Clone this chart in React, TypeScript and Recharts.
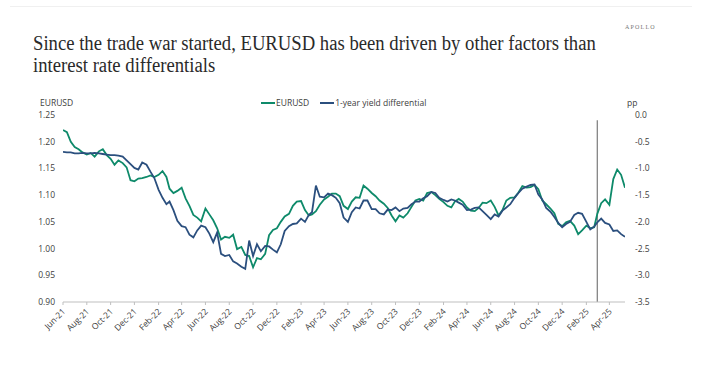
import React from 'react'
import { LineChart, Line, XAxis, YAxis, ReferenceLine } from 'recharts'

// readings taken every ~10 days (1st, 11th, 21st of each month) from Jun-21 to mid May-25
const sampleDays = [1, 11, 21]

const eurusd = [
  1.222, 1.218, 1.200, 1.190, 1.186, 1.180, 1.176, 1.179, 1.172, 1.182,
  1.186, 1.175, 1.168, 1.157, 1.165, 1.160, 1.152, 1.128, 1.126, 1.131,
  1.132, 1.134, 1.137, 1.134, 1.138, 1.145, 1.134, 1.112, 1.104, 1.108,
  1.114, 1.094, 1.080, 1.063, 1.058, 1.051, 1.075, 1.064, 1.053, 1.038,
  1.017, 1.022, 1.020, 1.026, 0.999, 1.003, 0.988, 0.986, 0.965, 0.982,
  0.980, 0.990, 1.025, 1.035, 1.038, 1.050, 1.060, 1.065, 1.080, 1.088,
  1.089, 1.072, 1.062, 1.064, 1.070, 1.082, 1.092, 1.097, 1.103, 1.103,
  1.098, 1.080, 1.074, 1.088, 1.096, 1.095, 1.118, 1.112, 1.104, 1.098,
  1.090, 1.084, 1.076, 1.062, 1.051, 1.062, 1.058, 1.066, 1.078, 1.090,
  1.093, 1.090, 1.104, 1.106, 1.100, 1.093, 1.087, 1.080, 1.077, 1.088,
  1.093, 1.088, 1.077, 1.071, 1.070, 1.076, 1.086, 1.085, 1.090, 1.078,
  1.062, 1.072, 1.090, 1.095, 1.096, 1.105, 1.117, 1.114, 1.115, 1.119,
  1.111, 1.090, 1.083, 1.075, 1.066, 1.046, 1.042, 1.049, 1.052, 1.043,
  1.027, 1.034, 1.043, 1.038, 1.040, 1.065, 1.085, 1.092, 1.082, 1.130,
  1.148, 1.138, 1.114,
]

// 1-year yield differential, pp (right axis)
const yieldDiff = [
  -0.69, -0.70, -0.70, -0.72, -0.72, -0.71, -0.72, -0.72, -0.71, -0.72,
  -0.73, -0.74, -0.75, -0.75, -0.76, -0.78, -0.85, -0.92, -0.99, -1.02,
  -0.89, -0.93, -1.06, -1.18, -1.40, -1.55, -1.67, -1.62, -1.78, -1.98,
  -2.08, -2.10, -2.24, -2.29, -2.16, -2.07, -2.10, -2.22, -2.38, -2.20,
  -2.60, -2.64, -2.62, -2.74, -2.78, -2.84, -2.88, -2.35, -2.64, -2.42,
  -2.55, -2.45, -2.46, -2.52, -2.57, -2.42, -2.17, -2.08, -2.04, -2.03,
  -1.94, -2.00, -1.87, -1.82, -1.32, -1.53, -1.54, -1.47, -1.50, -1.55,
  -1.65, -1.92, -2.00, -1.82, -1.73, -1.75, -1.60, -1.60, -1.76, -1.76,
  -1.84, -1.86, -1.77, -1.78, -1.73, -1.80, -1.75, -1.74, -1.67, -1.62,
  -1.62, -1.56, -1.52, -1.44, -1.46, -1.55, -1.59, -1.62, -1.58, -1.60,
  -1.64, -1.68, -1.78, -1.77, -1.74, -1.73, -1.80, -1.87, -1.95, -1.86,
  -1.90, -1.79, -1.73, -1.67, -1.55, -1.46, -1.38, -1.34, -1.31, -1.30,
  -1.49, -1.58, -1.74, -1.81, -1.91, -2.02, -2.10, -2.04, -2.00, -1.87,
  -1.83, -1.85, -2.00, -2.14, -2.09, -2.01, -1.94, -2.02, -2.05, -2.17,
  -2.16, -2.23, -2.28,
]

const tickLabels = [
  'Jun-21', 'Aug-21', 'Oct-21', 'Dec-21', 'Feb-22', 'Apr-22', 'Jun-22', 'Aug-22',
  'Oct-22', 'Dec-22', 'Feb-23', 'Apr-23', 'Jun-23', 'Aug-23', 'Oct-23', 'Dec-23',
  'Feb-24', 'Apr-24', 'Jun-24', 'Aug-24', 'Oct-24', 'Dec-24', 'Feb-25', 'Apr-25',
]
const leftTicks = [0.9, 0.95, 1.0, 1.05, 1.1, 1.15, 1.2, 1.25]
const rightTicks = [-3.5, -3.0, -2.5, -2.0, -1.5, -1.0, -0.5, 0.0]

const tradeWarStart = Date.UTC(2025, 2, 1)
const xStart = Date.UTC(2021, 5, 1)
const xEnd = Date.UTC(2025, 4, 11)

const MON = ['Jan', 'Feb', 'Mar', 'Apr', 'May', 'Jun', 'Jul', 'Aug', 'Sep', 'Oct', 'Nov', 'Dec']

const GREEN = '#0e8a6a'
const BLUE = '#2b4f7e'
const TEXT = '#404040'
const FONT = '"Open Sans", "Noto Sans", sans-serif'

const labelToTs = (l: string) => Date.UTC(2000 + Number(l.slice(4)), MON.indexOf(l.slice(0, 3)), 1)
const tickTs = tickLabels.map(labelToTs)
const tsToLabel: Record<number, string> = {}
tickLabels.forEach((l, i) => { tsToLabel[tickTs[i]] = l })

const data = eurusd.map((v, i) => {
  const mi = 5 + Math.floor(i / 3)
  return {
    t: Date.UTC(2021 + Math.floor(mi / 12), mi % 12, sampleDays[i % 3]),
    eurusd: v,
    diff: yieldDiff[i],
  }
})

const XTick = (props: any) => {
  const { x, y, payload } = props
  const ax = x + 3
  const ay = y + 5
  return (
    <text
      x={ax}
      y={ay}
      transform={`rotate(-45 ${ax} ${ay})`}
      textAnchor="end"
      fontSize={8.5}
      fontFamily={FONT}
      fill={TEXT}
    >
      {tsToLabel[payload.value]}
    </text>
  )
}

const legendItems = [
  { name: 'EURUSD', color: GREEN },
  { name: '1-year yield differential', color: BLUE },
]

export default function App() {
  return (
    <div style={{ position: 'absolute', left: 0, top: 0, width: 702, height: 390, background: '#fff', overflow: 'hidden' }}>
      <div style={{ position: 'absolute', left: 10, right: 10, top: 6, height: 1, background: '#f0f0f0' }} />
      <div style={{ position: 'absolute', left: 625, top: 24, fontFamily: '"Liberation Serif", serif', fontSize: 6, letterSpacing: 1.2, color: '#777' }}>
        APOLLO
      </div>
      <div
        style={{
          position: 'absolute',
          left: 33,
          top: 32,
          fontFamily: '"Liberation Serif", serif',
          fontSize: 20,
          lineHeight: '22px',
          color: '#2a2a2a',
          whiteSpace: 'nowrap',
          transform: 'scaleX(0.934)',
          transformOrigin: 'left top',
        }}
      >
        Since the trade war started, EURUSD has been driven by other factors than<br />
        interest rate differentials
      </div>

      <div style={{ position: 'absolute', left: 40, top: 97, fontFamily: FONT, fontSize: 8.5, color: TEXT }}>EURUSD</div>
      <div style={{ position: 'absolute', left: 627, top: 97, fontFamily: FONT, fontSize: 8.5, color: TEXT }}>pp</div>

      <div style={{ position: 'absolute', left: 261, top: 97, display: 'flex', gap: 11, fontFamily: FONT, fontSize: 8.5, color: TEXT }}>
        {legendItems.map((it) => (
          <div key={it.name} style={{ display: 'flex', alignItems: 'center' }}>
            <span style={{ display: 'inline-block', width: 14, height: 2, background: it.color, marginRight: 1 }} />
            <span>{it.name}</span>
          </div>
        ))}
      </div>

      <LineChart
        width={702}
        height={390}
        data={data}
        margin={{ top: 115, right: 27, bottom: 48, left: 0 }}
        style={{ position: 'absolute', left: 0, top: 0 }}
      >
        <XAxis
          dataKey="t"
          type="number"
          domain={[xStart, xEnd]}
          ticks={tickTs}
          tick={<XTick />}
          height={40}
          tickSize={3}
          tickMargin={2}
          interval={0}
          axisLine={{ stroke: '#bfbfbf' }}
          tickLine={{ stroke: '#bfbfbf' }}
          allowDataOverflow
        />
        <YAxis
          yAxisId="left"
          orientation="left"
          width={63}
          domain={[0.9, 1.25]}
          ticks={leftTicks}
          tickFormatter={(v: number) => v.toFixed(2)}
          axisLine={false}
          tickLine={false}
          tick={{ fontSize: 8.5, fill: TEXT, fontFamily: FONT }}
          interval={0}
        />
        <YAxis
          yAxisId="right"
          orientation="right"
          width={50}
          domain={[-3.5, 0]}
          ticks={rightTicks}
          tickFormatter={(v: number) => v.toFixed(1)}
          axisLine={false}
          tickLine={false}
          tickMargin={4}
          tick={{ fontSize: 8.5, fill: TEXT, fontFamily: FONT, textAnchor: 'start' }}
          interval={0}
        />
        <ReferenceLine
          yAxisId="left"
          segment={[{ x: tradeWarStart, y: 1.24 }, { x: tradeWarStart, y: 0.9 }]}
          stroke="#7a7a7a"
          strokeWidth={1.2}
        />
        <Line
          yAxisId="left"
          type="linear"
          dataKey="eurusd"
          stroke={GREEN}
          strokeWidth={1.8}
          dot={false}
          isAnimationActive={false}
        />
        <Line
          yAxisId="right"
          type="linear"
          dataKey="diff"
          stroke={BLUE}
          strokeWidth={1.8}
          dot={false}
          isAnimationActive={false}
        />
      </LineChart>
    </div>
  )
}
